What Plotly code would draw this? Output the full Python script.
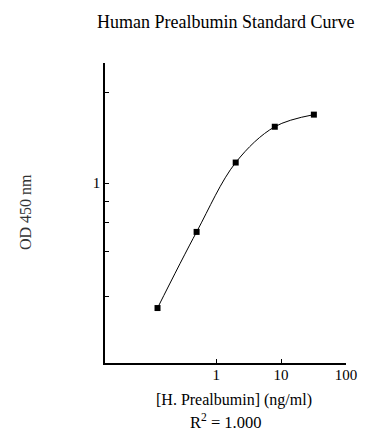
import plotly.graph_objects as go

# Data
concentration = [0.125, 0.5, 2, 8, 32]          # ng/ml
od450 = [0.383, 0.687, 1.17, 1.54, 1.69]         # OD 450 nm

x_tickvals = [1, 10, 100]
x_ticktext = ["1", "10", "100"]
y_tickvals = [1]
y_ticktext = ["1"]
y_minor_tickvals = [2, 0.87, 0.74, 0.59, 0.42]

title_text = "Human Prealbumin Standard Curve"
x_title = "[H. Prealbumin] (ng/ml)"
y_title = "OD 450 nm"
r2_text = "R<sup>2</sup> = 1.000"

FONT = "Liberation Serif"

fig = go.Figure()
fig.add_trace(go.Scatter(
    x=concentration, y=od450,
    mode="lines+markers",
    line=dict(color="black", width=1, shape="spline", smoothing=1),
    marker=dict(symbol="square", size=6, color="black"),
    showlegend=False,
))

W, H = 388, 444
L, R, T, B = 105, 42, 63, 81

fig.update_layout(
    width=W, height=H,
    margin=dict(l=L, r=R, t=T, b=B),
    paper_bgcolor="white", plot_bgcolor="white",
    font=dict(family=FONT, color="black", size=15),
    xaxis=dict(
        type="log", range=[-1.712, 2],
        tickvals=x_tickvals, ticktext=x_ticktext,
        ticks="inside", ticklen=4, tickwidth=1, tickcolor="black",
        showline=True, linecolor="black", linewidth=1.5,
        showgrid=False, zeroline=False,
        ticklabelstandoff=-3,
        tickfont=dict(family=FONT, size=15),
    ),
    yaxis=dict(
        type="log", range=[-0.6, 0.4],
        tickvals=y_tickvals, ticktext=y_ticktext,
        ticks="inside", ticklen=4, tickwidth=1, tickcolor="black",
        minor=dict(tickmode="array", tickvals=y_minor_tickvals,
                   ticks="inside", ticklen=4, tickwidth=1,
                   tickcolor="black", showgrid=False),
        showline=True, linecolor="black", linewidth=1.5,
        showgrid=False, zeroline=False,
        tickfont=dict(family=FONT, size=15),
    ),
)

pw, ph = W - L - R, H - T - B
def px2paper(px, py):
    return (px - L) / pw, (H - B - py) / ph

ann_specs = [
    (title_text, 225, 22, 18, "black", 0),
    (x_title, 234, 400, 16, "black", 0),
    (r2_text, 225, 421, 16.5, "black", 0),
    (y_title, 25, 212, 16, "#333333", -90),
]
for text, px, py, size, color, ang in ann_specs:
    ax, ay = px2paper(px, py)
    fig.add_annotation(text=text, x=ax, y=ay, xref="paper", yref="paper",
                       xanchor="center", yanchor="middle", showarrow=False,
                       textangle=ang, font=dict(family=FONT, size=size, color=color))

fig.write_html("out.html",
               config={"displayModeBar": False},
               post_script="document.body.style.margin='0';document.body.style.padding='0';")
